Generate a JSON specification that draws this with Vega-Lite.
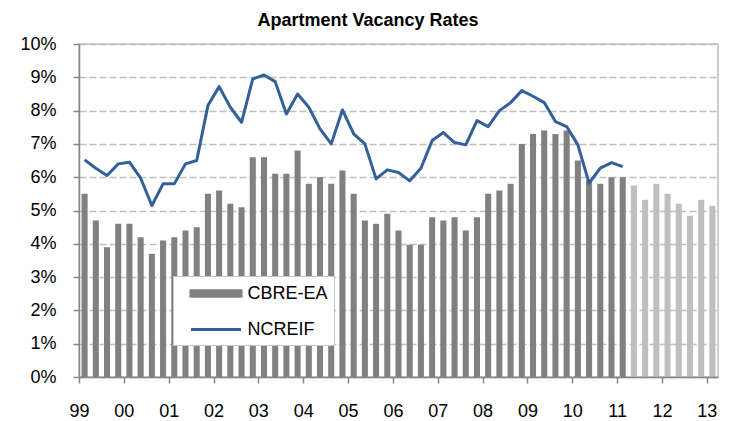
{
  "$schema": "https://vega.github.io/schema/vega-lite/v6.json",
  "width": 639,
  "height": 333,
  "autosize": {"type": "none"},
  "padding": {"left": 79, "top": 44, "right": 16, "bottom": 44},
  "background": "#ffffff",
  "title": {
    "text": "Apartment Vacancy Rates",
    "font": "Liberation Sans",
    "fontSize": 18,
    "fontWeight": "bold",
    "color": "#000000",
    "anchor": "middle",
    "dx": -30.5,
    "dy": 19,
    "baseline": "bottom",
    "offset": 6
  },
  "config": {
    "view": {"stroke": "#BFBFBF", "strokeWidth": 1.5},
    "axis": {
      "labelFont": "Liberation Sans",
      "labelFontSize": 18,
      "labelColor": "#000000",
      "domainColor": "#868686",
      "domainWidth": 1.5,
      "tickColor": "#868686",
      "tickWidth": 1.5,
      "title": null
    }
  },
  "data": {
    "values": [
      {"q": "1999Q1", "cbre": 5.5, "ncreif": 6.52, "status": "actual"},
      {"q": "1999Q2", "cbre": 4.7, "ncreif": 6.27, "status": "actual"},
      {"q": "1999Q3", "cbre": 3.9, "ncreif": 6.05, "status": "actual"},
      {"q": "1999Q4", "cbre": 4.6, "ncreif": 6.4, "status": "actual"},
      {"q": "2000Q1", "cbre": 4.6, "ncreif": 6.45, "status": "actual"},
      {"q": "2000Q2", "cbre": 4.2, "ncreif": 5.97, "status": "actual"},
      {"q": "2000Q3", "cbre": 3.7, "ncreif": 5.15, "status": "actual"},
      {"q": "2000Q4", "cbre": 4.1, "ncreif": 5.8, "status": "actual"},
      {"q": "2001Q1", "cbre": 4.2, "ncreif": 5.8, "status": "actual"},
      {"q": "2001Q2", "cbre": 4.4, "ncreif": 6.4, "status": "actual"},
      {"q": "2001Q3", "cbre": 4.5, "ncreif": 6.5, "status": "actual"},
      {"q": "2001Q4", "cbre": 5.5, "ncreif": 8.15, "status": "actual"},
      {"q": "2002Q1", "cbre": 5.6, "ncreif": 8.72, "status": "actual"},
      {"q": "2002Q2", "cbre": 5.2, "ncreif": 8.1, "status": "actual"},
      {"q": "2002Q3", "cbre": 5.1, "ncreif": 7.65, "status": "actual"},
      {"q": "2002Q4", "cbre": 6.6, "ncreif": 8.95, "status": "actual"},
      {"q": "2003Q1", "cbre": 6.6, "ncreif": 9.07, "status": "actual"},
      {"q": "2003Q2", "cbre": 6.1, "ncreif": 8.87, "status": "actual"},
      {"q": "2003Q3", "cbre": 6.1, "ncreif": 7.9, "status": "actual"},
      {"q": "2003Q4", "cbre": 6.8, "ncreif": 8.5, "status": "actual"},
      {"q": "2004Q1", "cbre": 5.8, "ncreif": 8.1, "status": "actual"},
      {"q": "2004Q2", "cbre": 6.0, "ncreif": 7.45, "status": "actual"},
      {"q": "2004Q3", "cbre": 5.8, "ncreif": 7.0, "status": "actual"},
      {"q": "2004Q4", "cbre": 6.2, "ncreif": 8.02, "status": "actual"},
      {"q": "2005Q1", "cbre": 5.5, "ncreif": 7.3, "status": "actual"},
      {"q": "2005Q2", "cbre": 4.7, "ncreif": 7.0, "status": "actual"},
      {"q": "2005Q3", "cbre": 4.6, "ncreif": 5.95, "status": "actual"},
      {"q": "2005Q4", "cbre": 4.9, "ncreif": 6.22, "status": "actual"},
      {"q": "2006Q1", "cbre": 4.4, "ncreif": 6.14, "status": "actual"},
      {"q": "2006Q2", "cbre": 3.97, "ncreif": 5.89, "status": "actual"},
      {"q": "2006Q3", "cbre": 3.97, "ncreif": 6.27, "status": "actual"},
      {"q": "2006Q4", "cbre": 4.8, "ncreif": 7.1, "status": "actual"},
      {"q": "2007Q1", "cbre": 4.7, "ncreif": 7.34, "status": "actual"},
      {"q": "2007Q2", "cbre": 4.8, "ncreif": 7.04, "status": "actual"},
      {"q": "2007Q3", "cbre": 4.4, "ncreif": 6.97, "status": "actual"},
      {"q": "2007Q4", "cbre": 4.8, "ncreif": 7.7, "status": "actual"},
      {"q": "2008Q1", "cbre": 5.5, "ncreif": 7.52, "status": "actual"},
      {"q": "2008Q2", "cbre": 5.6, "ncreif": 8.0, "status": "actual"},
      {"q": "2008Q3", "cbre": 5.8, "ncreif": 8.24, "status": "actual"},
      {"q": "2008Q4", "cbre": 7.0, "ncreif": 8.6, "status": "actual"},
      {"q": "2009Q1", "cbre": 7.3, "ncreif": 8.43, "status": "actual"},
      {"q": "2009Q2", "cbre": 7.4, "ncreif": 8.24, "status": "actual"},
      {"q": "2009Q3", "cbre": 7.3, "ncreif": 7.67, "status": "actual"},
      {"q": "2009Q4", "cbre": 7.4, "ncreif": 7.52, "status": "actual"},
      {"q": "2010Q1", "cbre": 6.5, "ncreif": 6.97, "status": "actual"},
      {"q": "2010Q2", "cbre": 5.9, "ncreif": 5.82, "status": "actual"},
      {"q": "2010Q3", "cbre": 5.8, "ncreif": 6.27, "status": "actual"},
      {"q": "2010Q4", "cbre": 6.0, "ncreif": 6.44, "status": "actual"},
      {"q": "2011Q1", "cbre": 6.0, "ncreif": 6.32, "status": "actual"},
      {"q": "2011Q2", "cbre": 5.75, "ncreif": null, "status": "forecast"},
      {"q": "2011Q3", "cbre": 5.32, "ncreif": null, "status": "forecast"},
      {"q": "2011Q4", "cbre": 5.8, "ncreif": null, "status": "forecast"},
      {"q": "2012Q1", "cbre": 5.5, "ncreif": null, "status": "forecast"},
      {"q": "2012Q2", "cbre": 5.2, "ncreif": null, "status": "forecast"},
      {"q": "2012Q3", "cbre": 4.84, "ncreif": null, "status": "forecast"},
      {"q": "2012Q4", "cbre": 5.32, "ncreif": null, "status": "forecast"},
      {"q": "2013Q1", "cbre": 5.14, "ncreif": null, "status": "forecast"}
    ]
  },
  "encoding": {
    "x": {
      "field": "q",
      "type": "ordinal",
      "sort": null,
      "scale": {"paddingInner": 0.46, "paddingOuter": 0.23},
      "axis": {
        "values": ["1999Q1","2000Q1","2001Q1","2002Q1","2003Q1","2004Q1","2005Q1","2006Q1","2007Q1","2008Q1","2009Q1","2010Q1","2011Q1","2012Q1","2013Q1"],
        "labelExpr": "substring(datum.value, 2, 4)",
        "labelAngle": 0,
        "bandPosition": 0.5,
        "tickOffset": -5.6,
        "tickSize": 6,
        "labelPadding": 19,
        "zindex": 1
      }
    }
  },
  "layer": [
    {
      "mark": {"type": "bar"},
      "encoding": {
        "y": {
          "field": "cbre",
          "type": "quantitative",
          "scale": {"domain": [0, 10], "nice": false},
          "axis": {
            "values": [0, 1, 2, 3, 4, 5, 6, 7, 8, 9, 10],
            "labelExpr": "datum.value + '%'",
            "labelOverlap": false,
            "grid": true,
            "gridColor": "#BFBFBF",
            "gridDash": [7, 3],
            "gridWidth": 1.5,
            "tickSize": 6,
            "labelPadding": 17,
            "zindex": 0
          }
        },
        "color": {
          "datum": "CBRE-EA",
          "type": "nominal",
          "scale": {"domain": ["CBRE-EA", "NCREIF"], "range": ["#808080", "#33609A"]},
          "condition": {"test": "datum.status === 'forecast'", "value": "#BFBFBF"},
          "legend": {
            "orient": "none",
            "legendX": 94,
            "legendY": 232,
            "title": null,
            "padding": 6,
            "rowPadding": 15,
            "symbolSize": 400,
            "symbolStrokeWidth": 3,
            "symbolOffset": 25.5,
            "labelOffset": 20,
            "labelFont": "Liberation Sans",
            "labelFontSize": 18,
            "labelColor": "#000000",
            "labelLimit": 300,
            "strokeColor": "#C8C8C8",
            "fillColor": "#FFFFFF",
            "encode": {
              "symbols": {
                "update": {
                  "shape": {"signal": "datum.value === 'CBRE-EA' ? 'M-2.5,-0.27H2.5V0.27H-2.5Z' : 'M-2.5,0H2.5'"},
                  "fill": {"signal": "datum.value === 'CBRE-EA' ? '#808080' : 'transparent'"},
                  "stroke": {"signal": "datum.value === 'CBRE-EA' ? 'transparent' : '#33609A'"},
                  "strokeWidth": {"value": 3},
                  "opacity": {"value": 1}
                }
              }
            }
          }
        }
      }
    },
    {
      "transform": [{"filter": "isValid(datum.ncreif)"}],
      "mark": {"type": "line", "strokeWidth": 3, "strokeJoin": "round"},
      "encoding": {
        "y": {
          "field": "ncreif",
          "type": "quantitative",
          "axis": {
            "values": [0, 1, 2, 3, 4, 5, 6, 7, 8, 9, 10],
            "labelExpr": "datum.value + '%'",
            "labelOverlap": false,
            "grid": true,
            "gridColor": "#BFBFBF",
            "gridDash": [7, 3],
            "gridWidth": 1.5,
            "tickSize": 6,
            "labelPadding": 17,
            "zindex": 0
          }
        },
        "color": {"datum": "NCREIF", "type": "nominal"}
      }
    }
  ]
}
